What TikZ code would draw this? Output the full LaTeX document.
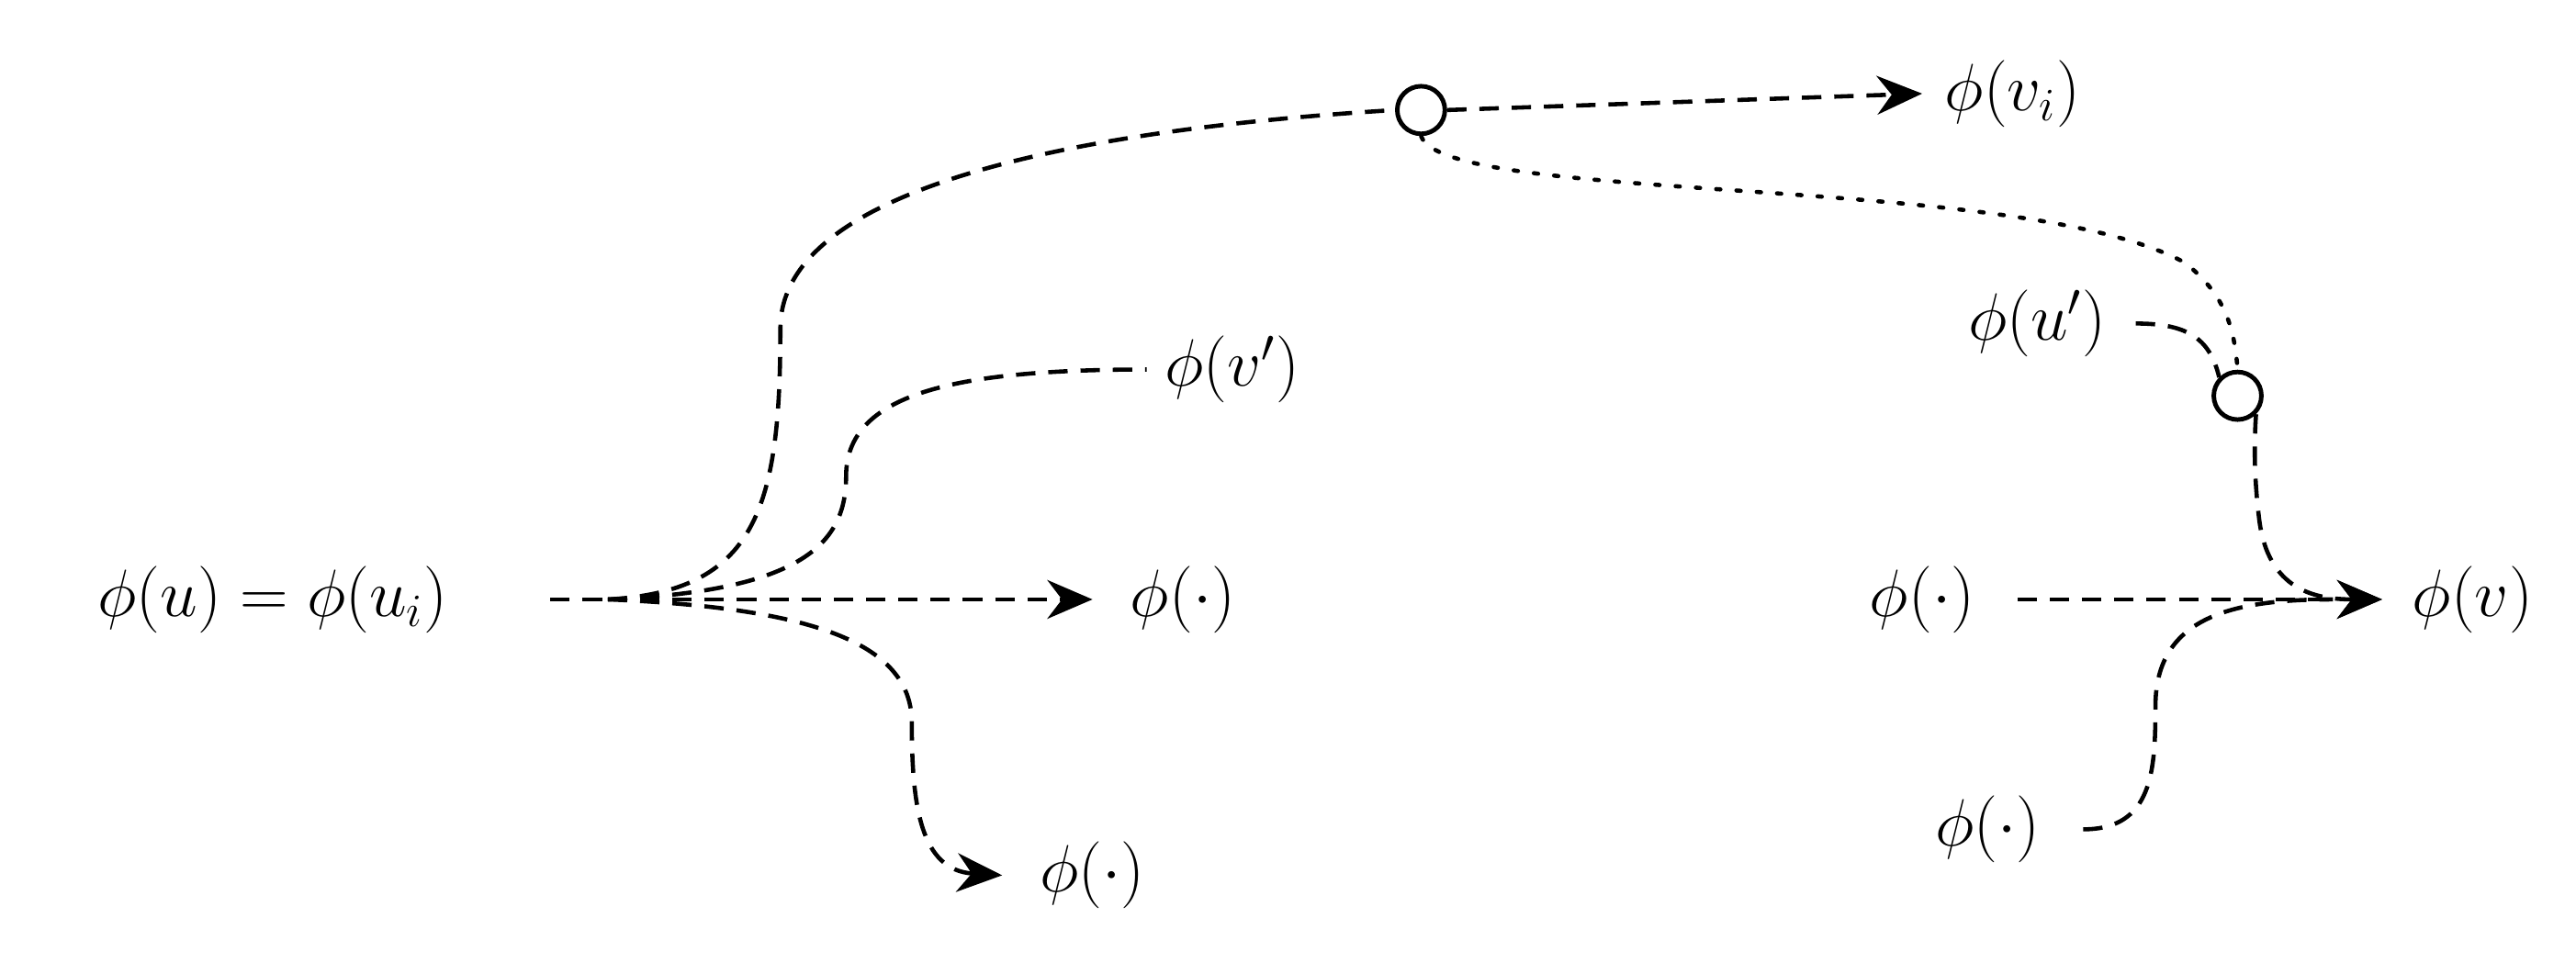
\documentclass[tikz,border=0pt]{standalone}
\usepackage{amsmath}
\usetikzlibrary{arrows.meta}
\tikzset{
  lbl/.style={inner sep=0pt,font=\fontsize{22}{26}\selectfont},
  dline/.style={dashed,line width=1.3pt,dash pattern=on 6pt off 4pt},
  dotline/.style={line width=1.3pt,dash pattern=on 1.3pt off 5pt,line cap=round},
  arr/.style={-{Stealth[length=14pt,width=12pt]}},
  ring/.style={circle,draw,line width=1.4pt,minimum size=14mm,inner sep=0pt}
}
\begin{document}
\begin{tikzpicture}[x=1.789cm,y=-1.789cm]
\useasboundingbox (0,0) rectangle (15.68,5.93);
% labels
\node[lbl] (u) at (1.66,3.65) {$\phi(u)=\phi(u_i)$};
\node[lbl] (vp) at (7.5,2.25) {$\phi(v')$};
\node[lbl] (m1) at (7.2,3.65) {$\phi(\cdot)$};
\node[lbl] (m2) at (6.65,5.33) {$\phi(\cdot)$};
\node[lbl] (vi) at (12.25,0.57) {$\phi(v_i)$};
\node[lbl] (up) at (12.4,1.97) {$\phi(u')$};
\node[lbl] (m3) at (11.7,3.65) {$\phi(\cdot)$};
\node[lbl] (v) at (15.05,3.65) {$\phi(v)$};
\node[lbl] (m4) at (12.1,5.05) {$\phi(\cdot)$};
% circles
\node[ring,minimum size=0.29cm*1.789] (c1) at (8.65,0.67) {};
\node[ring,minimum size=0.29cm*1.789] (c2) at (13.62,2.41) {};
% points
\coordinate (s) at (3.35,3.65);
\coordinate (f) at (3.7,3.65);
\coordinate (vpe) at (6.98,2.25);
\coordinate (vin) at (14.2,3.65);
% fan
\draw[dline] (s) -- (f);
\draw[dline,arr] (f) -- (6.65,3.65);
\draw[dline] (f) .. controls (4.6,3.6) and (4.75,3.1) .. (4.75,2.0)
  .. controls (4.75,1.0) and (7.2,0.75) .. (c1.west);
\draw[dline] (f) .. controls (4.9,3.6) and (5.15,3.3) .. (5.15,2.9)
  .. controls (5.15,2.4) and (5.8,2.25) .. (vpe);
\draw[dline,arr] (f) .. controls (4.9,3.7) and (5.55,3.9) .. (5.55,4.4)
  .. controls (5.55,4.9) and (5.6,5.3) .. (6.1,5.33);
% top right
\draw[dline,arr] (c1.east) -- (11.7,0.57);
\draw[dotline] (c1.south) .. controls (8.8,1.25) and (12.3,1.05) .. (13.3,1.6)
  .. controls (13.55,1.8) and (13.6,2.0) .. (c2.north);
\draw[dline] (13.0,1.97) .. controls (13.3,1.97) and (13.45,2.05) .. (c2.north west);
\draw[dline,arr] (c2.south east) .. controls (13.72,2.7) and (13.72,2.9) .. (13.75,3.15)
  .. controls (13.8,3.6) and (14.1,3.65) .. (14.5,3.65);
\draw[dline,arr] (12.28,3.65) -- (14.5,3.65);
\draw[dline] (12.68,5.05) .. controls (13.1,5.05) and (13.12,4.7) .. (13.12,4.3)
  .. controls (13.12,3.75) and (13.6,3.65) .. (vin);
\end{tikzpicture}
\end{document}
